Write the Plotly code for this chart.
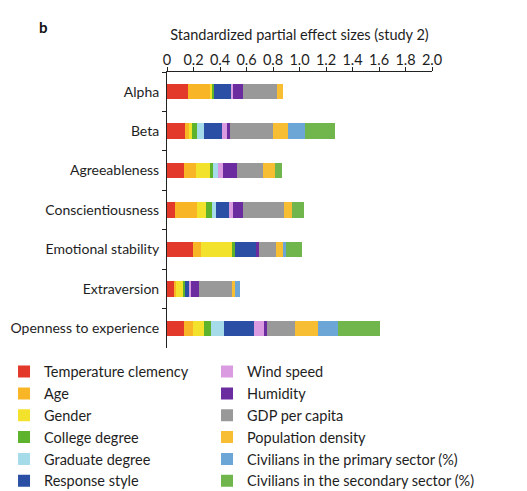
import plotly.graph_objects as go

traits = ["Alpha", "Beta", "Agreeableness", "Conscientiousness",
          "Emotional stability", "Extraversion", "Openness to experience"]

factors = ["Temperature clemency", "Age", "Gender", "College degree",
           "Graduate degree", "Response style", "Wind speed", "Humidity",
           "GDP per capita", "Population density",
           "Civilians in the primary sector (%)",
           "Civilians in the secondary sector (%)"]

temperature = [0.158, 0.137, 0.130, 0.058, 0.195, 0.055, 0.132]
age         = [0.168, 0.032, 0.090, 0.168, 0.062, 0.012, 0.062]
gender      = [0.012, 0.021, 0.105, 0.070, 0.240, 0.058, 0.083]
college     = [0.018, 0.037, 0.025, 0.042, 0.015, 0.012, 0.056]
graduate    = [0.000, 0.055, 0.038, 0.030, 0.000, 0.000, 0.095]
response    = [0.125, 0.131, 0.000, 0.102, 0.165, 0.032, 0.231]
wind        = [0.020, 0.040, 0.038, 0.030, 0.000, 0.010, 0.070]
humidity    = [0.075, 0.020, 0.100, 0.075, 0.015, 0.065, 0.025]
gdp         = [0.255, 0.324, 0.200, 0.308, 0.132, 0.248, 0.211]
popdensity  = [0.045, 0.118, 0.088, 0.062, 0.050, 0.020, 0.176]
primary     = [0.000, 0.126, 0.000, 0.000, 0.025, 0.042, 0.150]
secondary   = [0.000, 0.226, 0.055, 0.088, 0.118, 0.000, 0.317]

series = [temperature, age, gender, college, graduate, response,
          wind, humidity, gdp, popdensity, primary, secondary]

colors = ["#E3392B", "#F8B526", "#F3E22B", "#5DB32B", "#A6DCEA", "#2A4FA5",
          "#DA9BE0", "#6A2C9E", "#999999", "#F7BE33", "#6BA6D6", "#70B64C"]

x_ticks = [0, 0.2, 0.4, 0.6, 0.8, 1.0, 1.2, 1.4, 1.6, 1.8, 2.0]
x_ticktext = ["0", "0.2", "0.4", "0.6", "0.8", "1.0", "1.2", "1.4", "1.6", "1.8", "2.0"]

FONT = "Lato"
TXT = "#1e1e1e"

fig = go.Figure()
for i, (name, vals, col) in enumerate(zip(factors, series, colors)):
    fig.add_trace(go.Bar(
        y=traits, x=vals, name=name, orientation="h",
        marker=dict(color=col, line=dict(width=0)),
        width=0.39,
        legend="legend" if i < 6 else "legend2",
        hoverinfo="name+x",
    ))

legend_common = dict(
    orientation="v", xref="paper", yref="container",
    xanchor="left", yanchor="top", bgcolor="rgba(0,0,0,0)",
    font=dict(family=FONT, size=14.5, color=TXT), traceorder="normal",
    itemwidth=30, tracegroupgap=0,
)

fig.update_layout(
    width=527, height=491,
    margin=dict(l=159, r=103, t=64, b=151, autoexpand=False),
    paper_bgcolor="white", plot_bgcolor="white",
    barmode="stack",
    font=dict(family=FONT, size=14, color=TXT),
    legend=dict(x=-0.615, y=0.292, **legend_common),
    legend2=dict(x=0.151, y=0.292, **legend_common),
    xaxis=dict(
        side="top", range=[0, 2], tickvals=x_ticks, ticktext=x_ticktext,
        showline=True, linecolor="#222", linewidth=1,
        ticks="outside", ticklen=4, tickcolor="#222",
        ticklabelstandoff=-4,
        showgrid=False, zeroline=False,
        tickfont=dict(family=FONT, size=14.5, color=TXT),
        title=dict(text="Standardized partial effect sizes (study 2)",
                   font=dict(family=FONT, size=14.5, color=TXT), standoff=7),
    ),
    yaxis=dict(
        type="category", categoryorder="array", categoryarray=traits,
        range=[6.5, -0.5],
        showline=True, linecolor="#222", linewidth=1,
        ticks="outside", ticklen=4, tickcolor="#222", tickson="boundaries",
        ticklabelstandoff=4,
        showgrid=False, zeroline=False,
        tickfont=dict(family=FONT, size=14, color=TXT),
    ),
    annotations=[dict(text="<b>b</b>", xref="paper", yref="paper",
                      x=-0.49, y=1.162, xanchor="left", yanchor="middle",
                      showarrow=False,
                      font=dict(family=FONT, size=15, color="#111"))],
)

fig.write_html("out.html")
